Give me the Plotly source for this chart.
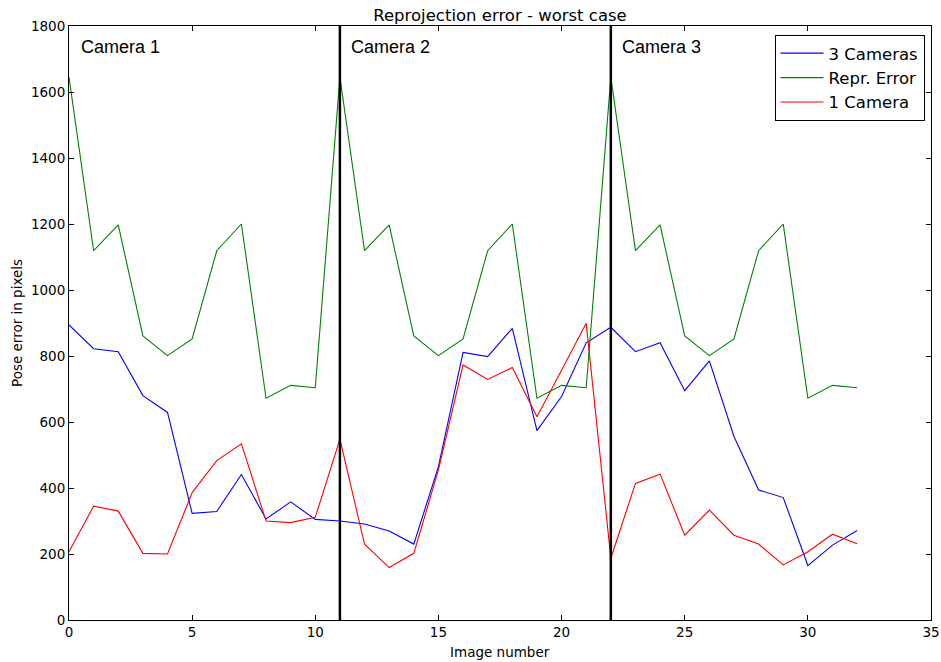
import plotly.graph_objects as go

image_number = list(range(33))

three_cameras = [894, 822, 813, 680, 629, 323, 329, 441, 306, 358, 305,
                 300, 291, 270, 230, 465, 811, 798, 884, 574, 677, 840,
                 887, 813, 840, 695, 785, 556, 394, 371, 165, 227, 271]

repr_error = [1645, 1119, 1197, 861, 801, 852, 1119, 1200, 672, 711, 704,
              1645, 1119, 1197, 861, 801, 852, 1119, 1200, 672, 711, 704,
              1645, 1119, 1197, 861, 801, 852, 1119, 1200, 672, 711, 704]

one_camera = [207, 345, 330, 202, 200, 386, 483, 534, 300, 295, 311,
              548, 230, 159, 202, 455, 773, 729, 765, 616, 757, 899,
              187, 414, 442, 257, 333, 257, 230, 167, 207, 260, 231]

camera_boundaries = [11, 22]
camera_labels = ["Camera 1", "Camera 2", "Camera 3"]
camera_label_x = [0.4, 11.37, 22.39]

x_ticks = [0, 5, 10, 15, 20, 25, 30, 35]
y_ticks = [0, 200, 400, 600, 800, 1000, 1200, 1400, 1600, 1800]

fig = go.Figure()
fig.add_trace(go.Scatter(x=image_number, y=three_cameras, mode="lines",
                         name="3 Cameras", line=dict(color="#0000ff", width=1.1)))
fig.add_trace(go.Scatter(x=image_number, y=repr_error, mode="lines",
                         name="Repr. Error", line=dict(color="#008000", width=1.1)))
fig.add_trace(go.Scatter(x=image_number, y=one_camera, mode="lines",
                         name="1 Camera", line=dict(color="#ff0000", width=1.1)))

for b in camera_boundaries:
    fig.add_shape(type="line", x0=b, x1=b, y0=0, y1=1, yref="paper",
                  line=dict(color="black", width=2.5), layer="above")

for lbl, lx in zip(camera_labels, camera_label_x):
    fig.add_annotation(x=lx, y=1735, text=lbl, showarrow=False,
                       xanchor="left", yanchor="middle",
                       font=dict(family="Liberation Sans, Arial", size=18, color="black"))

fig.add_annotation(x=0.5, y=0, xref="paper", yref="paper", yshift=-32,
                   text="Image number", showarrow=False, xanchor="center", yanchor="middle",
                   font=dict(family="DejaVu Sans", size=13.5, color="black"))
fig.add_annotation(x=0, y=0.5, xref="paper", yref="paper", xshift=-52,
                   text="Pose error in pixels", showarrow=False, textangle=-90,
                   xanchor="center", yanchor="middle",
                   font=dict(family="DejaVu Sans", size=13.5, color="black"))

axis_common = dict(showgrid=False, zeroline=False, showline=True, linecolor="black",
                   linewidth=1, mirror="ticks", ticks="inside", ticklen=5,
                   tickcolor="black", tickwidth=1, automargin=False,
                   tickfont=dict(family="DejaVu Sans", size=13.5, color="black"))

fig.update_layout(
    width=941, height=662,
    margin=dict(l=69, r=10, t=26, b=42),
    paper_bgcolor="white", plot_bgcolor="white",
    font=dict(family="DejaVu Sans", color="black"),
    title=dict(text="Reprojection error - worst case", x=0.5, xanchor="center", xref="paper",
               y=1 - 15 / 662, yanchor="middle", yref="container",
               font=dict(family="DejaVu Sans", size=16.5, color="black")),
    xaxis=dict(range=[0, 35], tickvals=x_ticks, **axis_common),
    yaxis=dict(range=[0, 1800], tickvals=y_ticks, **axis_common),
    legend=dict(x=0.9925, xanchor="right", y=0.985, yanchor="top",
                bgcolor="white", bordercolor="black", borderwidth=1,
                font=dict(family="DejaVu Sans", size=16.5, color="black"),
                itemwidth=43),
    showlegend=True,
)

fig.write_html("out.html", config={"displayModeBar": False},
               post_script="document.body.style.margin='0px';")
